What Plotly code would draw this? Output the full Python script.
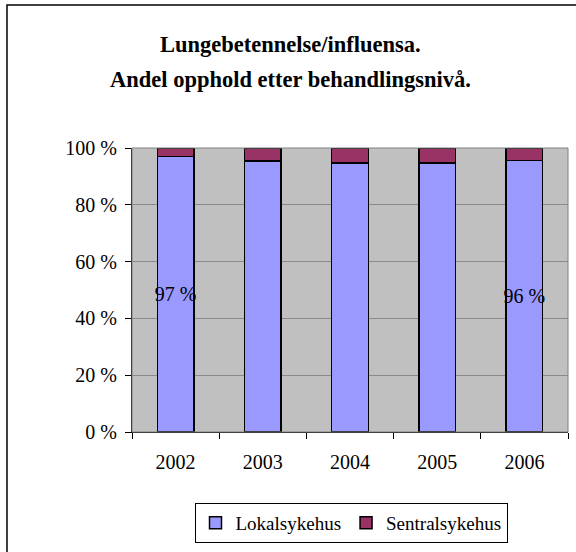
import plotly.graph_objects as go

years = ["2002", "2003", "2004", "2005", "2006"]
lokal = [97.0, 95.5, 94.8, 94.8, 95.6]
sentral = [3.0, 4.5, 5.2, 5.2, 4.4]
lokal_labels = ["97 %", "", "", "", "96 %"]
title_lines = ["Lungebetennelse/influensa.", "Andel opphold etter behandlingsnivå."]

FONT = "Liberation Serif"
L, R, T, B = 132, 8, 148, 120
PW = 576 - L - R
PH = 552 - T - B


def px(xp):
    return (xp - L) / PW


def py(yp):
    return (552 - B - yp) / PH


fig = go.Figure()
fig.add_trace(go.Bar(
    x=years, y=lokal, name="Lokalsykehus",
    marker=dict(color="#9999FF", line=dict(color="black", width=1.5)),
    text=lokal_labels, textposition="inside", insidetextanchor="middle",
    constraintext="none", textangle=0,
    textfont=dict(family=FONT, size=20, color="black"),
    hoverinfo="skip",
))
fig.add_trace(go.Bar(
    x=years, y=sentral, name="Sentralsykehus",
    marker=dict(color="#993366", line=dict(color="black", width=1.5)),
    hoverinfo="skip",
))

annotations = []
for i, line in enumerate(title_lines):
    annotations.append(dict(
        text="<b>" + line + "</b>", xref="paper", yref="paper",
        x=px(290), y=py(44 + 35 * i),
        xanchor="center", yanchor="middle", showarrow=False,
        font=dict(family=FONT, size=22.5, color="black"),
    ))

fig.update_layout(
    width=576, height=552,
    margin=dict(l=L, r=R, t=T, b=B),
    barmode="stack", bargap=0.58,
    paper_bgcolor="white", plot_bgcolor="#C0C0C0",
    font=dict(family=FONT, size=20, color="black"),
    showlegend=True,
    legend=dict(
        orientation="h", x=px(351), y=py(523),
        xanchor="center", yanchor="middle",
        bordercolor="black", borderwidth=1,
        font=dict(family=FONT, size=19, color="black"),
        itemwidth=30, traceorder="normal",
    ),
    annotations=annotations,
    shapes=[
        dict(type="rect", xref="paper", yref="paper",
             x0=px(7), x1=px(590), y0=py(570), y1=py(5),
             line=dict(color="black", width=1.5), layer="below"),
        dict(type="rect", xref="paper", yref="paper",
             x0=0, x1=1, y0=0, y1=1,
             line=dict(color="#808080", width=1), layer="above"),
    ],
    xaxis=dict(
        showgrid=False, showline=True, linecolor="black", linewidth=1,
        ticks="outside", ticklen=6, tickcolor="black", tickson="boundaries",
        tickfont=dict(family=FONT, size=20), ticklabelstandoff=12,
    ),
    yaxis=dict(
        range=[0, 100], dtick=20, ticksuffix=" %",
        showgrid=True, gridcolor="#8a8a8a", gridwidth=1,
        showline=True, linecolor="black", linewidth=1,
        ticks="outside", ticklen=6, tickcolor="black",
        tickfont=dict(family=FONT, size=20), zeroline=False,
        ticklabelstandoff=4,
    ),
)

fig.write_html("out.html", config={"displayModeBar": False},
               post_script="document.body.style.margin='0';")
